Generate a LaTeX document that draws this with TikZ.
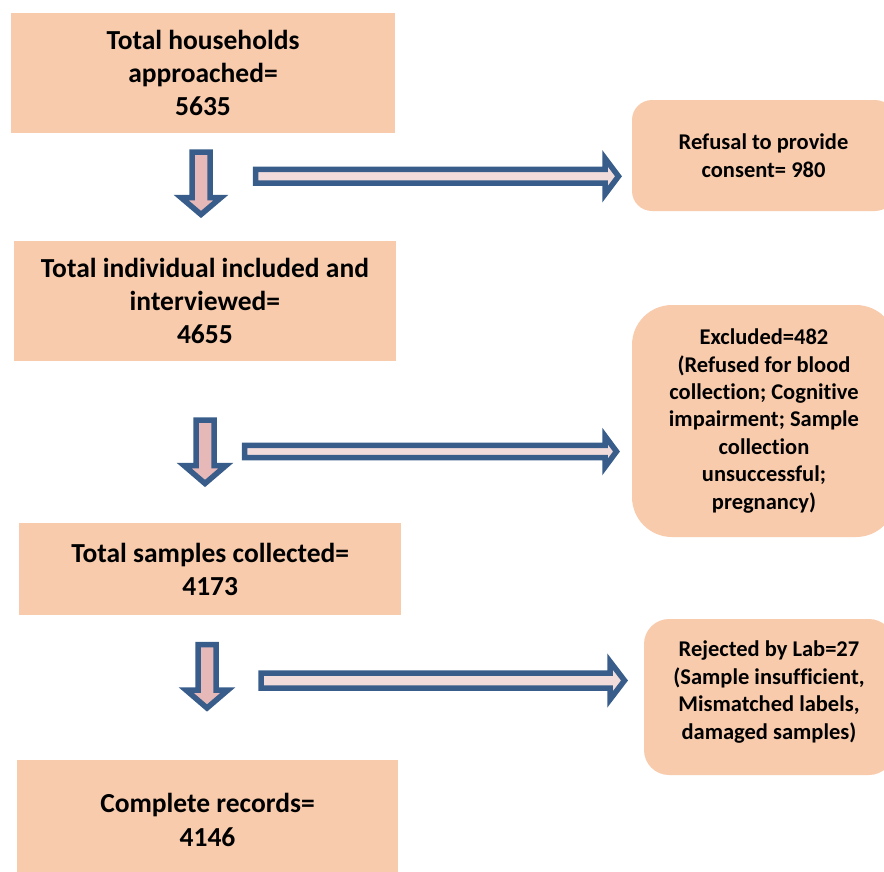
\documentclass[tikz,border=0pt]{standalone}
\usepackage{fontspec}
\setmainfont[Ligatures=NoCommon]{Carlito}
\newcommand{\nolig}{\kern0pt }
\definecolor{boxfill}{HTML}{F8CBAD}
\definecolor{arrline}{HTML}{385D8A}
\definecolor{downfill}{HTML}{E6B9B8}
\definecolor{rightfill}{HTML}{F2DCDB}
\begin{document}
\begin{tikzpicture}[x=1pt,y=-1pt,
  mainbox/.style={fill=boxfill, draw=none, inner sep=0pt, align=center,
    font=\fontsize{27.5}{33.3}\selectfont\bfseries},
  sidebox/.style={fill=boxfill, draw=none, inner sep=0pt, align=center,
    font=\fontsize{22.5}{27.4}\selectfont\bfseries},
  sidetext/.style={inner sep=0pt, align=center,
    font=\fontsize{22.5}{27.4}\selectfont\bfseries},
  blockarrow/.style={draw=arrline, line width=5.5pt, line join=miter, miter limit=10}]
\useasboundingbox (0,0) rectangle (884,871);
\clip (0,0) rectangle (884,871);

% main (left) boxes
\node[mainbox, minimum width=384pt, minimum height=119.4pt] (b1) at (203,73)
  {Total households\\approached=\\5635};
\node[mainbox, minimum width=381.7pt, minimum height=119.7pt] (b3) at (204.9,300.9)
  {Total individual included and\\interviewed=\\4655};
\node[mainbox, minimum width=381.7pt, minimum height=91.7pt] (b5) at (210.2,569.2)
  {Total samples collected=\\4173};
\node[mainbox, minimum width=381.6pt, minimum height=119.3pt] (b7) at (207.5,820)
  {Complete records=\\4146};

% side (right) boxes
\node[sidebox, rounded corners=20pt, minimum width=263pt, minimum height=111pt] (b2) at (763.5,155.5)
  {Refusal to provide\\consent= 980};
\node[sidebox, rounded corners=40pt, minimum width=264pt, minimum height=232pt] (b4) at (764,421)
  {Excluded=482\\(Refused for blood\\collect\nolig ion; Cognit\nolig ive\\impairment; Sample\\collect\nolig ion\\unsuccessful;\\pregnancy)};
\node[sidebox, rounded corners=25pt, minimum width=250pt, minimum height=156pt] (b6) at (769,697) {};
\node[sidetext] (b6t) at (769,692)
  {Rejected by Lab=27\\(Sample insuf\nolig f\nolig icient,\\Mismatched labels,\\damaged samples)};

% down block arrows
\draw[blockarrow, fill=downfill, shift={(201,0)}]
  (-9,152) -- (9,152) -- (9,197.5) -- (20,197.5) -- (0,214.5) -- (-20,197.5) -- (-9,197.5) -- cycle;
\draw[blockarrow, fill=downfill, shift={(205,0)}]
  (-9,420) -- (9,420) -- (9,465.5) -- (21,465.5) -- (0,483.5) -- (-21,465.5) -- (-9,465.5) -- cycle;
\draw[blockarrow, fill=downfill, shift={(207,0)}]
  (-9,644.5) -- (9,644.5) -- (9,690) -- (21,690) -- (0,708) -- (-21,690) -- (-9,690) -- cycle;

% right block arrows
\draw[blockarrow, fill=rightfill, shift={(0,176.3)}]
  (255.5,-6.9) -- (605,-6.9) -- (605,-18) -- (618.5,0) -- (605,18) -- (605,6.9) -- (255.5,6.9) -- cycle;
\draw[blockarrow, fill=rightfill, shift={(0,451.5)}]
  (244.5,-6.1) -- (605,-6.1) -- (605,-15.5) -- (616.5,0) -- (605,15.5) -- (605,6.1) -- (244.5,6.1) -- cycle;
\draw[blockarrow, fill=rightfill, shift={(0,680.5)}]
  (261,-7.5) -- (610,-7.5) -- (610,-19) -- (624.5,0) -- (610,19) -- (610,7.5) -- (261,7.5) -- cycle;
\end{tikzpicture}
\end{document}
